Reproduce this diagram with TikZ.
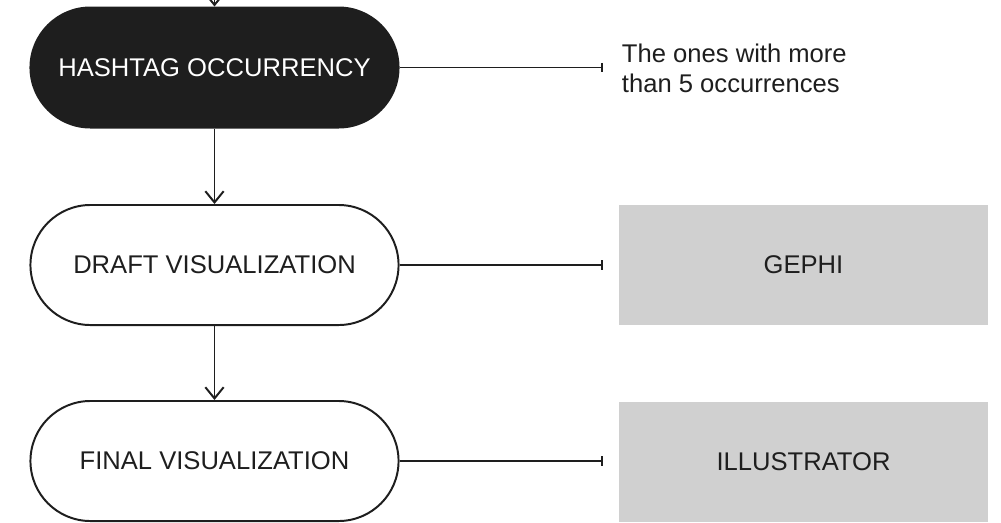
\documentclass[tikz,border=0pt]{standalone}
\usepackage{fontspec}
\setmainfont{Liberation Sans}
\usetikzlibrary{arrows.meta,positioning}
\definecolor{ink}{HTML}{1E1E1E}
\definecolor{chip}{HTML}{D0D0D0}

\begin{document}
\begin{tikzpicture}[x=0.025cm,y=-0.025cm,line width=1.4pt,
  font=\fontsize{18.2}{21.5}\selectfont,
  stage/.style={draw=ink,rounded corners=1.5cm,minimum width=9.2cm,
    minimum height=3cm,inner sep=0pt,text=ink},
  tool/.style={fill=chip,minimum width=9.225cm,minimum height=3cm,inner sep=0pt,text=ink},
  flow/.style={draw=ink,-{Straight Barb[length=8pt,width=13pt]}},
  link/.style={draw=ink,-{Bar[width=6.5pt]}}]
\useasboundingbox (0,0) rectangle (1001,522);
\coordinate (top) at (214.5,0);
\node[stage,fill=ink,text=white] (H) at (214.5,67.5) {HASHTAG OCCURRENCY};
\node[stage] (D) at (214.5,265) {DRAFT VISUALIZATION};
\node[stage] (F) at (214.5,461) {FINAL VISUALIZATION};
\node[tool] (Gp) at (803.5,265) {GEPHI};
\node[tool] (Il) at (803.5,462) {ILLUSTRATOR};
\node[anchor=west,align=left,inner sep=0pt,text=ink] (N) at (621,68)
  {The ones with more\\than 5 occurrences};
\coordinate (Hend) at (603,67.5);
\coordinate (Dend) at (603,265);
\coordinate (Fend) at (603,461);
% vertical flow
\draw[flow] (top) -- (H);
\draw[flow] (H) -- (D);
\draw[flow] (D) -- (F);
% side links
\draw[link] (H) -- (Hend);
\draw[link] (D) -- (Dend);
\draw[link] (F) -- (Fend);
\end{tikzpicture}
\end{document}
